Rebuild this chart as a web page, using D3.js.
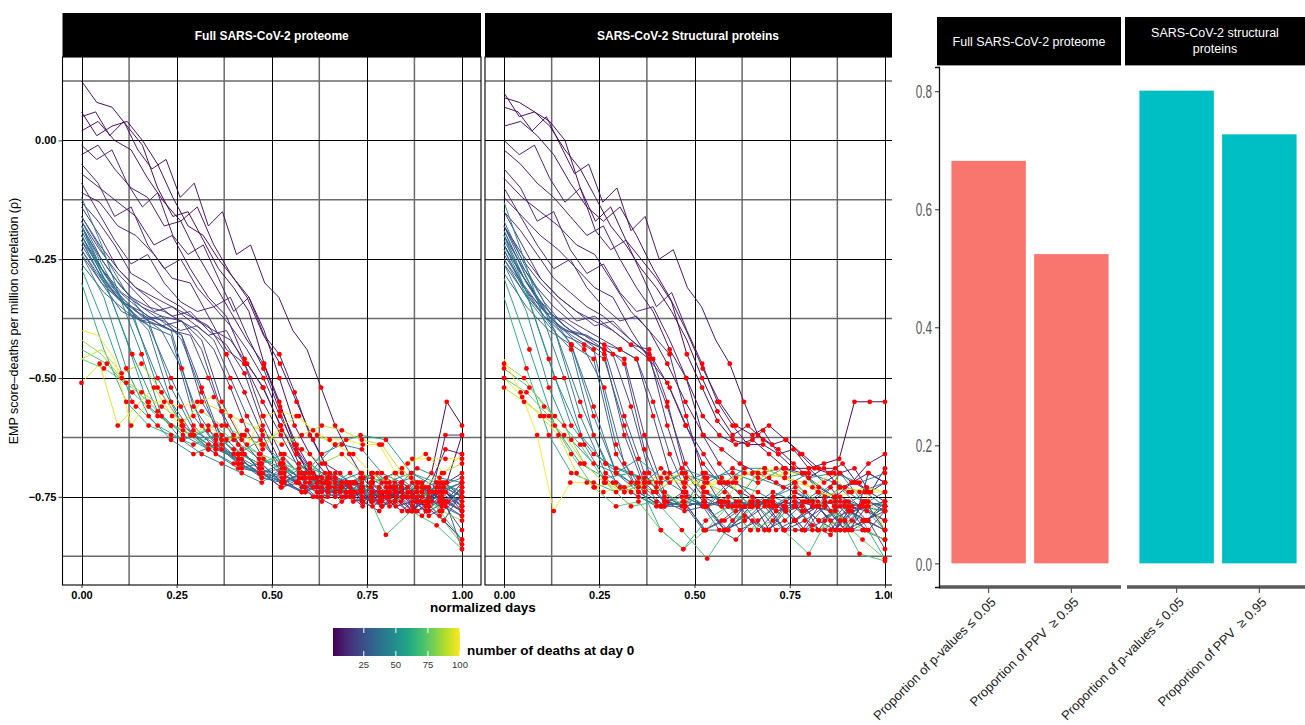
<!DOCTYPE html>
<html>
<head>
<meta charset="utf-8">
<script src="https://cdn.jsdelivr.net/npm/d3@7"></script>
<style>
  body { margin: 0; background: #fff; }
  svg { display: block; font-family: "Liberation Sans", Arial, Helvetica, sans-serif; }
</style>
</head>
<body>
<svg id="chart" width="1305" height="725"></svg>
<script>
// ---- correlation trajectories: one row per country, coloured by deaths at day 0 ----
const deaths = [1, 2, 3, 4, 5, 6, 7, 8, 9, 10, 11, 12, 13, 15, 16, 18, 19, 20, 22, 24, 26, 27, 29, 30, 32, 34, 35, 38, 40, 41, 44, 46, 48, 52, 57, 63, 70, 76, 83, 90, 95, 100];

// full proteome: correlation at evenly spaced normalized days
const proteomeSeries = [
  [0.125,0.08,0.07,0.03,-0.01,-0.10,-0.16,-0.15,-0.21,-0.27,-0.31,-0.36,-0.47,-0.55,-0.64,-0.71,-0.72,-0.74,-0.72,-0.73,-0.75,-0.72,-0.74,-0.70,-0.55,-0.60],
  [0.06,0.01,0.03,0.04,0.00,-0.05,-0.12,-0.18,-0.20,-0.25,-0.29,-0.33,-0.40,-0.50,-0.60,-0.66,-0.70,-0.73,-0.72,-0.75,-0.74,-0.76,-0.73,-0.74,-0.72,-0.62],
  [0.02,0.04,0.00,-0.02,-0.08,-0.13,-0.17,-0.14,-0.22,-0.28,-0.33,-0.41,-0.47,-0.55,-0.63,-0.70,-0.72,-0.71,-0.75,-0.73,-0.77,-0.74,-0.76,-0.72],
  [0.05,0.06,0.01,0.04,-0.02,-0.06,-0.04,-0.12,-0.09,-0.18,-0.15,-0.24,-0.22,-0.30,-0.33,-0.40,-0.44,-0.52,-0.60,-0.66,-0.71,-0.70,-0.73,-0.75,-0.72,-0.74,-0.76,-0.73],
  [-0.03,-0.01,-0.06,-0.10,-0.12,-0.18,-0.17,-0.24,-0.30,-0.36,-0.42,-0.47,-0.56,-0.64,-0.70,-0.73,-0.72,-0.76,-0.74,-0.75,-0.78,-0.73,-0.65,-0.66],
  [-0.07,-0.10,-0.13,-0.16,-0.22,-0.20,-0.27,-0.33,-0.37,-0.46,-0.52,-0.60,-0.68,-0.71,-0.74,-0.72,-0.76,-0.75,-0.73,-0.77,-0.80,-0.84],
  [-0.01,-0.04,-0.02,-0.09,-0.14,-0.11,-0.20,-0.24,-0.22,-0.29,-0.36,-0.33,-0.41,-0.45,-0.53,-0.62,-0.68,-0.70,-0.74,-0.72,-0.75,-0.73,-0.78,-0.76,-0.72,-0.70],
  [-0.11,-0.13,-0.18,-0.20,-0.24,-0.29,-0.30,-0.37,-0.44,-0.47,-0.55,-0.62,-0.69,-0.72,-0.71,-0.74,-0.76,-0.73,-0.75,-0.78,-0.74,-0.76],
  [-0.05,-0.09,-0.16,-0.14,-0.22,-0.27,-0.25,-0.31,-0.35,-0.33,-0.41,-0.48,-0.57,-0.66,-0.71,-0.70,-0.74,-0.77,-0.73,-0.75,-0.72,-0.76,-0.74,-0.78],
  [-0.13,-0.17,-0.22,-0.28,-0.30,-0.33,-0.35,-0.38,-0.40,-0.42,-0.47,-0.52,-0.60,-0.66,-0.70,-0.73,-0.72,-0.75,-0.74,-0.77,-0.76,-0.77,-0.62,-0.62],
  [-0.09,-0.15,-0.21,-0.26,-0.24,-0.30,-0.34,-0.36,-0.35,-0.39,-0.44,-0.50,-0.58,-0.65,-0.70,-0.72,-0.74,-0.73,-0.76,-0.74,-0.78,-0.75,-0.74,-0.77],
  [-0.16,-0.22,-0.27,-0.31,-0.33,-0.35,-0.37,-0.39,-0.45,-0.53,-0.62,-0.70,-0.72,-0.74,-0.72,-0.76,-0.75,-0.74,-0.78,-0.76,-0.73,-0.75],
  [-0.14,-0.20,-0.27,-0.31,-0.34,-0.37,-0.36,-0.40,-0.43,-0.49,-0.60,-0.68,-0.71,-0.73,-0.75,-0.72,-0.74,-0.77,-0.75,-0.73,-0.76,-0.78],
  [-0.18,-0.24,-0.29,-0.33,-0.35,-0.36,-0.38,-0.40,-0.44,-0.52,-0.61,-0.67,-0.70,-0.72,-0.75,-0.73,-0.72,-0.76,-0.78,-0.74,-0.75,-0.79,-0.77,-0.73],
  [-0.17,-0.23,-0.28,-0.32,-0.36,-0.35,-0.38,-0.41,-0.40,-0.47,-0.58,-0.66,-0.70,-0.72,-0.71,-0.75,-0.73,-0.76,-0.74,-0.77,-0.72,-0.75],
  [-0.20,-0.27,-0.32,-0.35,-0.37,-0.38,-0.42,-0.55,-0.63,-0.68,-0.72,-0.70,-0.73,-0.75,-0.72,-0.76,-0.74,-0.79,-0.75,-0.78],
  [-0.21,-0.29,-0.34,-0.36,-0.39,-0.38,-0.44,-0.57,-0.65,-0.70,-0.71,-0.74,-0.72,-0.76,-0.73,-0.75,-0.78,-0.74,-0.77,-0.75],
  [-0.22,-0.28,-0.33,-0.36,-0.38,-0.40,-0.41,-0.50,-0.60,-0.66,-0.70,-0.73,-0.72,-0.75,-0.77,-0.74,-0.72,-0.75,-0.78,-0.76,-0.80,-0.74],
  [-0.24,-0.30,-0.34,-0.38,-0.39,-0.41,-0.52,-0.63,-0.67,-0.71,-0.72,-0.74,-0.71,-0.75,-0.73,-0.77,-0.75,-0.72,-0.76,-0.82],
  [-0.21,-0.26,-0.31,-0.34,-0.37,-0.38,-0.40,-0.39,-0.42,-0.50,-0.58,-0.64,-0.68,-0.72,-0.73,-0.71,-0.75,-0.74,-0.76,-0.73,-0.75,-0.78,-0.76,-0.86],
  [-0.23,-0.30,-0.36,-0.38,-0.37,-0.42,-0.53,-0.64,-0.69,-0.70,-0.73,-0.71,-0.75,-0.73,-0.76,-0.74,-0.72,-0.75,-0.77,-0.79],
  [-0.17,-0.25,-0.31,-0.35,-0.38,-0.41,-0.55,-0.62,-0.66,-0.69,-0.72,-0.70,-0.74,-0.72,-0.75,-0.77,-0.73,-0.76,-0.74,-0.72],
  [-0.20,-0.29,-0.34,-0.38,-0.40,-0.56,-0.63,-0.67,-0.70,-0.72,-0.71,-0.74,-0.72,-0.75,-0.73,-0.76,-0.75,-0.78],
  [-0.26,-0.32,-0.36,-0.39,-0.41,-0.58,-0.64,-0.68,-0.70,-0.72,-0.74,-0.72,-0.75,-0.77,-0.74,-0.78,-0.76,-0.79],
  [-0.19,-0.27,-0.33,-0.37,-0.40,-0.48,-0.60,-0.65,-0.68,-0.71,-0.70,-0.73,-0.76,-0.72,-0.74,-0.77,-0.75,-0.73,-0.78,-0.75],
  [-0.18,-0.28,-0.35,-0.39,-0.50,-0.60,-0.65,-0.67,-0.70,-0.69,-0.73,-0.71,-0.74,-0.72,-0.70,-0.74,-0.73,-0.76],
  [-0.23,-0.30,-0.35,-0.40,-0.55,-0.62,-0.66,-0.69,-0.68,-0.72,-0.74,-0.71,-0.73,-0.76,-0.72,-0.75,-0.74,-0.77],
  [-0.16,-0.24,-0.32,-0.38,-0.52,-0.61,-0.64,-0.67,-0.70,-0.68,-0.72,-0.75,-0.73,-0.70,-0.74,-0.72,-0.76,-0.74],
  [-0.18,-0.28,-0.37,-0.50,-0.60,-0.64,-0.66,-0.69,-0.71,-0.68,-0.72,-0.70,-0.73,-0.71,-0.74,-0.72],
  [-0.20,-0.30,-0.36,-0.52,-0.60,-0.65,-0.68,-0.70,-0.72,-0.69,-0.71,-0.74,-0.72,-0.70,-0.73,-0.71],
  [-0.12,-0.22,-0.34,-0.45,-0.58,-0.63,-0.66,-0.68,-0.70,-0.72,-0.69,-0.71,-0.66,-0.64,-0.65,-0.70,-0.72,-0.75,-0.72,-0.74],
  [-0.21,-0.31,-0.45,-0.57,-0.62,-0.65,-0.63,-0.67,-0.69,-0.72,-0.70,-0.73,-0.71,-0.74,-0.72,-0.75],
  [-0.24,-0.33,-0.48,-0.58,-0.63,-0.66,-0.64,-0.68,-0.70,-0.72,-0.70,-0.74,-0.72,-0.71,-0.73,-0.69,-0.71,-0.72],
  [-0.18,-0.29,-0.42,-0.56,-0.60,-0.62,-0.65,-0.66,-0.63,-0.68,-0.70,-0.72,-0.74,-0.70,-0.73,-0.76,-0.72,-0.77],
  [-0.27,-0.40,-0.55,-0.60,-0.63,-0.61,-0.65,-0.68,-0.66,-0.70,-0.64,-0.62,-0.63,-0.70,-0.72,-0.74],
  [-0.30,-0.44,-0.55,-0.60,-0.62,-0.64,-0.62,-0.66,-0.68,-0.67,-0.71,-0.73,-0.70,-0.74,-0.76,-0.72,-0.78,-0.84],
  [-0.44,-0.47,-0.53,-0.58,-0.61,-0.65,-0.62,-0.66,-0.70,-0.68,-0.73,-0.71,-0.83,-0.78,-0.81,-0.86],
  [-0.46,-0.48,-0.51,-0.55,-0.60,-0.62,-0.60,-0.64,-0.66,-0.68,-0.70,-0.72,-0.74,-0.72,-0.76,-0.73,-0.79,-0.85],
  [-0.42,-0.45,-0.50,-0.53,-0.56,-0.59,-0.57,-0.60,-0.62,-0.64,-0.61,-0.65,-0.68,-0.66,-0.70,-0.72,-0.69,-0.74,-0.78,-0.80],
  [-0.46,-0.44,-0.49,-0.47,-0.53,-0.60,-0.55,-0.57,-0.59,-0.61,-0.64,-0.62,-0.60,-0.61,-0.63,-0.64,-0.70,-0.73,-0.70,-0.68],
  [-0.51,-0.47,-0.60,-0.56,-0.52,-0.58,-0.62,-0.60,-0.63,-0.62,-0.65,-0.60,-0.58,-0.62,-0.64,-0.66,-0.70,-0.72,-0.68,-0.66,-0.70,-0.66],
  [-0.40,-0.41,-0.46,-0.60,-0.55,-0.55,-0.56,-0.55,-0.54,-0.58,-0.64,-0.58,-0.57,-0.58,-0.61,-0.63,-0.63,-0.64,-0.64,-0.70,-0.67,-0.67,-0.67,-0.67]
];

// structural proteins only
const structuralSeries = [
  [0.09,0.08,0.06,0.04,0.00,-0.10,-0.17,-0.14,-0.21,-0.25,-0.29,-0.34,-0.45,-0.52,-0.59,-0.63,-0.64,-0.64,-0.66,-0.69,-0.69,-0.68,-0.67,-0.55,-0.55,-0.55],
  [0.10,0.05,0.06,0.03,-0.02,-0.06,-0.12,-0.18,-0.22,-0.27,-0.31,-0.36,-0.42,-0.50,-0.57,-0.62,-0.60,-0.63,-0.65,-0.68,-0.71,-0.69,-0.73,-0.72,-0.74,-0.76],
  [0.03,0.04,0.01,-0.03,-0.09,-0.14,-0.17,-0.14,-0.20,-0.27,-0.33,-0.40,-0.48,-0.55,-0.60,-0.62,-0.60,-0.63,-0.66,-0.69,-0.69,-0.72,-0.70,-0.72],
  [0.07,0.06,0.02,0.05,-0.01,-0.07,-0.05,-0.13,-0.10,-0.19,-0.16,-0.25,-0.23,-0.31,-0.35,-0.42,-0.47,-0.55,-0.62,-0.64,-0.63,-0.66,-0.69,-0.70,-0.68,-0.72,-0.74,-0.69],
  [-0.02,-0.05,-0.09,-0.12,-0.16,-0.20,-0.18,-0.25,-0.31,-0.36,-0.44,-0.50,-0.58,-0.62,-0.64,-0.63,-0.66,-0.69,-0.70,-0.73,-0.75,-0.72,-0.68,-0.66],
  [-0.08,-0.12,-0.15,-0.18,-0.22,-0.24,-0.30,-0.36,-0.40,-0.47,-0.55,-0.62,-0.65,-0.68,-0.70,-0.72,-0.74,-0.76,-0.73,-0.78,-0.80,-0.82],
  [0.00,-0.03,-0.01,-0.08,-0.13,-0.10,-0.19,-0.23,-0.21,-0.28,-0.35,-0.32,-0.40,-0.47,-0.55,-0.60,-0.64,-0.61,-0.66,-0.65,-0.69,-0.72,-0.70,-0.69,-0.74,-0.72],
  [-0.12,-0.16,-0.20,-0.23,-0.27,-0.31,-0.33,-0.40,-0.46,-0.51,-0.60,-0.66,-0.72,-0.74,-0.76,-0.77,-0.75,-0.77,-0.78,-0.76,-0.80,-0.77],
  [-0.06,-0.10,-0.17,-0.15,-0.23,-0.28,-0.26,-0.32,-0.36,-0.35,-0.42,-0.50,-0.62,-0.68,-0.72,-0.75,-0.77,-0.76,-0.78,-0.77,-0.82,-0.78,-0.77,-0.82],
  [-0.15,-0.19,-0.24,-0.29,-0.32,-0.35,-0.37,-0.40,-0.43,-0.46,-0.52,-0.60,-0.68,-0.72,-0.76,-0.77,-0.76,-0.78,-0.77,-0.80,-0.78,-0.82,-0.70,-0.72],
  [-0.10,-0.16,-0.22,-0.27,-0.25,-0.31,-0.35,-0.38,-0.37,-0.41,-0.45,-0.58,-0.70,-0.76,-0.77,-0.76,-0.82,-0.78,-0.77,-0.80,-0.82,-0.77,-0.76,-0.78],
  [-0.18,-0.24,-0.29,-0.33,-0.36,-0.38,-0.40,-0.43,-0.46,-0.56,-0.68,-0.74,-0.76,-0.77,-0.76,-0.78,-0.77,-0.76,-0.80,-0.78,-0.76,-0.77],
  [-0.15,-0.22,-0.29,-0.33,-0.36,-0.39,-0.38,-0.42,-0.45,-0.60,-0.72,-0.76,-0.77,-0.82,-0.80,-0.77,-0.76,-0.82,-0.82,-0.77,-0.78,-0.80],
  [-0.20,-0.26,-0.31,-0.35,-0.38,-0.40,-0.42,-0.44,-0.46,-0.58,-0.70,-0.75,-0.77,-0.76,-0.78,-0.77,-0.76,-0.78,-0.82,-0.77,-0.76,-0.80,-0.82,-0.78],
  [-0.18,-0.25,-0.30,-0.34,-0.38,-0.37,-0.40,-0.43,-0.44,-0.55,-0.70,-0.75,-0.77,-0.76,-0.77,-0.82,-0.80,-0.77,-0.76,-0.82,-0.77,-0.76],
  [-0.22,-0.29,-0.35,-0.39,-0.42,-0.44,-0.46,-0.62,-0.74,-0.77,-0.76,-0.82,-0.80,-0.77,-0.82,-0.78,-0.76,-0.82,-0.80,-0.78],
  [-0.23,-0.31,-0.36,-0.38,-0.41,-0.43,-0.47,-0.65,-0.75,-0.77,-0.76,-0.82,-0.77,-0.76,-0.82,-0.80,-0.77,-0.82,-0.76,-0.77],
  [-0.24,-0.30,-0.35,-0.39,-0.41,-0.43,-0.45,-0.56,-0.70,-0.76,-0.77,-0.82,-0.80,-0.77,-0.82,-0.78,-0.77,-0.81,-0.83,-0.78,-0.80,-0.76],
  [-0.26,-0.32,-0.37,-0.41,-0.43,-0.46,-0.60,-0.72,-0.76,-0.78,-0.77,-0.82,-0.79,-0.82,-0.77,-0.82,-0.80,-0.76,-0.82,-0.84],
  [-0.22,-0.28,-0.33,-0.37,-0.40,-0.41,-0.43,-0.44,-0.46,-0.55,-0.66,-0.74,-0.77,-0.82,-0.84,-0.80,-0.82,-0.77,-0.76,-0.82,-0.77,-0.82,-0.80,-0.86],
  [-0.25,-0.31,-0.37,-0.40,-0.41,-0.44,-0.58,-0.70,-0.76,-0.77,-0.76,-0.82,-0.77,-0.82,-0.80,-0.76,-0.77,-0.82,-0.80,-0.82],
  [-0.18,-0.27,-0.34,-0.39,-0.42,-0.45,-0.62,-0.73,-0.77,-0.76,-0.82,-0.80,-0.77,-0.76,-0.82,-0.82,-0.77,-0.80,-0.76,-0.77],
  [-0.21,-0.30,-0.37,-0.41,-0.44,-0.64,-0.74,-0.77,-0.76,-0.77,-0.82,-0.77,-0.76,-0.80,-0.77,-0.82,-0.77,-0.80],
  [-0.28,-0.35,-0.40,-0.43,-0.46,-0.66,-0.74,-0.77,-0.76,-0.82,-0.82,-0.77,-0.76,-0.80,-0.77,-0.82,-0.82,-0.84],
  [-0.20,-0.29,-0.36,-0.40,-0.44,-0.52,-0.68,-0.74,-0.77,-0.77,-0.76,-0.82,-0.80,-0.76,-0.77,-0.82,-0.82,-0.77,-0.80,-0.77],
  [-0.19,-0.29,-0.37,-0.43,-0.56,-0.70,-0.74,-0.77,-0.76,-0.77,-0.75,-0.77,-0.74,-0.76,-0.77,-0.75,-0.77,-0.80],
  [-0.25,-0.33,-0.39,-0.44,-0.62,-0.72,-0.75,-0.77,-0.74,-0.77,-0.76,-0.77,-0.75,-0.77,-0.74,-0.76,-0.77,-0.78],
  [-0.17,-0.27,-0.36,-0.43,-0.58,-0.70,-0.73,-0.69,-0.72,-0.70,-0.72,-0.77,-0.75,-0.72,-0.77,-0.73,-0.76,-0.77],
  [-0.19,-0.30,-0.40,-0.55,-0.68,-0.72,-0.74,-0.70,-0.72,-0.69,-0.71,-0.73,-0.70,-0.72,-0.74,-0.72],
  [-0.22,-0.33,-0.40,-0.58,-0.70,-0.74,-0.77,-0.75,-0.77,-0.72,-0.74,-0.77,-0.76,-0.72,-0.77,-0.74],
  [-0.13,-0.25,-0.38,-0.50,-0.64,-0.71,-0.74,-0.72,-0.76,-0.77,-0.70,-0.72,-0.69,-0.69,-0.71,-0.70,-0.76,-0.77,-0.74,-0.77],
  [-0.23,-0.34,-0.50,-0.62,-0.68,-0.70,-0.72,-0.69,-0.71,-0.70,-0.72,-0.69,-0.71,-0.70,-0.72,-0.70],
  [-0.26,-0.36,-0.52,-0.63,-0.68,-0.70,-0.67,-0.71,-0.74,-0.77,-0.72,-0.77,-0.75,-0.73,-0.77,-0.70,-0.76,-0.77],
  [-0.20,-0.32,-0.46,-0.60,-0.66,-0.69,-0.71,-0.72,-0.70,-0.74,-0.77,-0.76,-0.77,-0.74,-0.76,-0.80,-0.77,-0.82],
  [-0.29,-0.44,-0.60,-0.68,-0.71,-0.70,-0.73,-0.77,-0.74,-0.77,-0.70,-0.69,-0.71,-0.75,-0.77,-0.78],
  [-0.33,-0.48,-0.62,-0.70,-0.72,-0.74,-0.72,-0.82,-0.86,-0.80,-0.77,-0.82,-0.77,-0.82,-0.82,-0.77,-0.80,-0.88],
  [-0.48,-0.52,-0.58,-0.64,-0.72,-0.77,-0.76,-0.82,-0.88,-0.80,-0.77,-0.82,-0.87,-0.77,-0.87,-0.885],
  [-0.50,-0.53,-0.58,-0.66,-0.73,-0.77,-0.76,-0.82,-0.86,-0.82,-0.77,-0.82,-0.80,-0.77,-0.82,-0.80,-0.84,-0.88],
  [-0.47,-0.50,-0.56,-0.60,-0.68,-0.72,-0.73,-0.71,-0.74,-0.77,-0.72,-0.74,-0.77,-0.70,-0.71,-0.74,-0.77,-0.80,-0.82,-0.84],
  [-0.52,-0.55,-0.58,-0.62,-0.68,-0.72,-0.74,-0.72,-0.70,-0.73,-0.71,-0.76,-0.70,-0.69,-0.71,-0.72,-0.75,-0.73,-0.74,-0.82],
  [-0.50,-0.54,-0.58,-0.62,-0.70,-0.73,-0.72,-0.74,-0.72,-0.71,-0.70,-0.73,-0.71,-0.74,-0.70,-0.69,-0.72,-0.73,-0.70,-0.74,-0.73,-0.74],
  [-0.46,-0.53,-0.62,-0.78,-0.72,-0.72,-0.74,-0.73,-0.72,-0.74,-0.72,-0.71,-0.73,-0.72,-0.71,-0.70,-0.71,-0.70,-0.70,-0.74,-0.75,-0.74,-0.74,-0.74]
];

// index of the first significant day for each country (points from here on are marked)
const proteomeSigFrom   = [12,13,12,17,11,9,13,9,11,10,11,8,9,9,9,7,7,7,6,9,6,6,5,5,5,4,4,4,3,3,3,2,2,3,2,2,1,1,2,2,0,3];
const structuralSigFrom = [12,13,12,16,10,9,13,8,11,9,10,7,8,7,8,5,5,6,4,7,5,5,4,3,4,3,3,3,3,3,3,2,2,2,1,1,0,0,0,0,0,1];

const lineFacets = ["Full SARS-CoV-2 proteome", "SARS-CoV-2 Structural proteins"];
const xTicks = [0, 0.25, 0.5, 0.75, 1];
const xMinor = [0.125, 0.375, 0.625, 0.875];
const yTicks = [0, -0.25, -0.5, -0.75];
const yMinor = [0.125, -0.125, -0.375, -0.625, -0.875];
const legendTicks = [25, 50, 75, 100];

// ---- summary proportions ----
const barFacets = ["Full SARS-CoV-2 proteome", "SARS-CoV-2 structural proteins"];
const barMetrics = ["Proportion of p-values \u2264 0.05", "Proportion of PPV  \u2265 0.95"];
const proteomeProportions = [0.682, 0.524];
const structuralProportions = [0.801, 0.727];
const barTicks = [0, 0.2, 0.4, 0.6, 0.8];
const barColors = ["#F8766D", "#00BFC4"];

const svg = d3.select("#chart");

// =================== faceted trajectories ===================
const panelTop = 57, panelBottom = 585;
const facetRanges = [[62.5, 481], [485, 904]];

const allValues = proteomeSeries.concat(structuralSeries).flat();
const [vMin, vMax] = d3.extent(allValues);
const vPad = (vMax - vMin) * 0.05;
const y = d3.scaleLinear().domain([vMin - vPad, vMax + vPad]).range([panelBottom, panelTop]);
const color = d3.scaleSequential(d3.interpolateViridis).domain(d3.extent(deaths));

const facetData = [
  { series: proteomeSeries, sig: proteomeSigFrom },
  { series: structuralSeries, sig: structuralSigFrom }
];

facetData.forEach((fd, f) => {
  const [px0, px1] = facetRanges[f];
  const x = d3.scaleLinear().domain([-0.05, 1.05]).range([px0, px1]);
  const g = svg.append("g");

  svg.append("clipPath").attr("id", "clip" + f)
    .append("rect").attr("x", px0).attr("y", panelTop).attr("width", px1 - px0).attr("height", panelBottom - panelTop);

  const grid = g.append("g");
  grid.selectAll(".hmin").data(yMinor).join("line")
    .attr("x1", px0).attr("x2", px1)
    .attr("y1", d => y(d)).attr("y2", d => y(d))
    .attr("stroke", "#6a6a6a").attr("stroke-width", 1.5);
  grid.selectAll(".vmin").data(xMinor).join("line")
    .attr("y1", panelTop).attr("y2", panelBottom)
    .attr("x1", d => x(d)).attr("x2", d => x(d))
    .attr("stroke", "#6a6a6a").attr("stroke-width", 1.5);
  grid.selectAll(".hmaj").data(yTicks).join("line")
    .attr("x1", px0).attr("x2", px1)
    .attr("y1", d => Math.round(y(d)) + 0.5).attr("y2", d => Math.round(y(d)) + 0.5)
    .attr("stroke", "#000").attr("stroke-width", 1);
  grid.selectAll(".vmaj").data(xTicks).join("line")
    .attr("y1", panelTop).attr("y2", panelBottom)
    .attr("x1", d => Math.round(x(d)) + 0.5).attr("x2", d => Math.round(x(d)) + 0.5)
    .attr("stroke", "#000").attr("stroke-width", 1);

  const line = d3.line()
    .x((v, i, arr) => x(i / (arr.length - 1)))
    .y(v => y(v));

  const plot = g.append("g").attr("clip-path", `url(#clip${f})`);
  plot.selectAll("path.traj").data(fd.series).join("path")
    .attr("class", "traj")
    .attr("d", d => line(d))
    .attr("fill", "none")
    .attr("stroke", (d, k) => color(deaths[k]))
    .attr("stroke-width", 0.95);

  const dots = [];
  fd.series.forEach((s, k) => {
    s.forEach((v, i) => {
      if (i >= fd.sig[k]) dots.push({ x: i / (s.length - 1), v });
    });
  });
  plot.selectAll("circle").data(dots).join("circle")
    .attr("cx", d => x(d.x)).attr("cy", d => y(d.v))
    .attr("r", 2.4).attr("fill", "#ff0000");

  // panel border
  g.append("rect")
    .attr("x", px0).attr("y", panelTop).attr("width", px1 - px0).attr("height", panelBottom - panelTop)
    .attr("fill", "none").attr("stroke", "#000").attr("stroke-width", 1.1);

  // strip
  g.append("rect").attr("x", px0).attr("y", 13).attr("width", px1 - px0).attr("height", panelTop - 13).attr("fill", "#000");
  g.append("text")
    .attr("x", (px0 + Math.min(px1, 891)) / 2).attr("y", 40)
    .attr("text-anchor", "middle").attr("fill", "#fff")
    .attr("font-size", 12).attr("font-weight", "bold")
    .text(lineFacets[f]);

  // x axis
  const xAxis = g.append("g").attr("transform", `translate(0,${panelBottom})`)
    .call(d3.axisBottom(x).tickValues(xTicks).tickSize(3).tickPadding(3).tickFormat(d3.format(".2f")));
  xAxis.select(".domain").remove();
  xAxis.selectAll("line").attr("stroke", "#333");
  xAxis.selectAll("text").attr("font-size", 11).attr("font-weight", "bold").attr("fill", "#000")
    .attr("font-family", "'Liberation Sans', Arial, sans-serif");

  if (f === 0) {
    const yAxis = g.append("g").attr("transform", `translate(${px0},0)`)
      .call(d3.axisLeft(y).tickValues(yTicks).tickSize(4).tickPadding(2).tickFormat(d3.format(".2f")));
    yAxis.select(".domain").remove();
    yAxis.selectAll("line").attr("stroke", "#333");
    yAxis.selectAll("text").attr("font-size", 11).attr("font-weight", "bold").attr("fill", "#000")
      .attr("font-family", "'Liberation Sans', Arial, sans-serif");
  }
});

svg.append("text")
  .attr("transform", "translate(18,321) rotate(-90)")
  .attr("text-anchor", "middle").attr("font-size", 12.5).attr("fill", "#000")
  .text("EMP score\u2013deaths per million correlation (\u03c1)");

svg.append("text")
  .attr("x", 483).attr("y", 612).attr("text-anchor", "middle")
  .attr("font-size", 13.5).attr("font-weight", "bold")
  .text("normalized days");

// colour bar legend
const legendX = d3.scaleLinear().domain(d3.extent(deaths)).range([333, 460]);
const defs = svg.append("defs");
const grad = defs.append("linearGradient").attr("id", "viridisGrad");
d3.range(0, 1.0001, 0.1).forEach(t => {
  grad.append("stop").attr("offset", t).attr("stop-color", d3.interpolateViridis(t));
});
const legend = svg.append("g");
legend.append("rect").attr("x", 333).attr("y", 628).attr("width", 127).attr("height", 28).attr("fill", "url(#viridisGrad)");
legend.selectAll(".tt").data(legendTicks).join("line")
  .attr("x1", d => legendX(d)).attr("x2", d => legendX(d)).attr("y1", 628).attr("y2", 633)
  .attr("stroke", "#fff").attr("stroke-width", 1);
legend.selectAll(".tb").data(legendTicks).join("line")
  .attr("x1", d => legendX(d)).attr("x2", d => legendX(d)).attr("y1", 651).attr("y2", 656)
  .attr("stroke", "#fff").attr("stroke-width", 1);
legend.selectAll("text.lab").data(legendTicks).join("text")
  .attr("x", d => legendX(d)).attr("y", 668).attr("text-anchor", "middle")
  .attr("font-size", 9.5).attr("fill", "#333").text(d => d);
legend.append("text").attr("x", 467).attr("y", 655)
  .attr("font-size", 13.5).attr("font-weight", "bold").text("number of deaths at day 0");

// =================== proportion bars ===================
svg.append("rect").attr("x", 892).attr("y", 0).attr("width", 1305 - 892).attr("height", 725).attr("fill", "#fff");

const barTop = 67, barBottom = 587;
const barMax = d3.max(proteomeProportions.concat(structuralProportions));
const yb = d3.scaleLinear().domain([-0.05 * barMax, barMax * 1.05]).range([barBottom, barTop]);
const barRanges = [[939, 1121], [1127, 1309]];
const barValues = [proteomeProportions, structuralProportions];

barValues.forEach((vals, f) => {
  const [bx0, bx1] = barRanges[f];
  const xb = d3.scaleBand().domain(barMetrics).range([bx0, bx1]).paddingInner(0.1).paddingOuter(0.15);
  const g = svg.append("g");

  g.selectAll("rect.bar").data(vals).join("rect")
    .attr("class", "bar")
    .attr("x", (d, i) => xb(barMetrics[i]))
    .attr("width", xb.bandwidth())
    .attr("y", d => yb(d))
    .attr("height", d => yb(0) - yb(d))
    .attr("fill", barColors[f]);

  // strip
  g.append("rect").attr("x", bx0 - 2).attr("y", 17).attr("width", Math.min(bx1, 1305) - bx0 + 2).attr("height", 48).attr("fill", "#000");
  g.append("line").attr("x1", bx0 - 2).attr("x2", Math.min(bx1, 1305)).attr("y1", 65.5).attr("y2", 65.5)
    .attr("stroke", "#9a9a9a").attr("stroke-width", 1);
  const words = f === 0 ? [barFacets[0]] : ["SARS-CoV-2 structural", "proteins"];
  const cx = (bx0 - 2 + Math.min(bx1, 1305)) / 2;
  g.selectAll("text.strip").data(words).join("text")
    .attr("class", "strip")
    .attr("x", cx)
    .attr("y", (d, i) => words.length === 1 ? 46 : 37 + i * 16)
    .attr("text-anchor", "middle").attr("fill", "#fff").attr("font-size", 12.5)
    .text(d => d);

  // x axis
  g.append("line").attr("x1", bx0).attr("x2", Math.min(bx1, 1305)).attr("y1", barBottom).attr("y2", barBottom)
    .attr("stroke", "#5a5a5a").attr("stroke-width", 3.5);
  const xAx = g.append("g").attr("transform", `translate(0,${barBottom})`)
    .call(d3.axisBottom(xb).tickSize(6).tickPadding(4));
  xAx.select(".domain").remove();
  xAx.selectAll("line").attr("stroke", "#555").attr("stroke-width", 1.2);
  xAx.selectAll("text")
    .attr("text-anchor", "end")
    .attr("font-size", 13).attr("fill", "#222")
    .attr("font-family", "'Liberation Sans', Arial, sans-serif")
    .style("white-space", "pre")
    .attr("dy", 0).attr("y", 0)
    .attr("transform", "translate(8,16) rotate(-45)");

  if (f === 0) {
    const yAx = g.append("g").attr("transform", `translate(${bx0},0)`)
      .call(d3.axisLeft(yb).tickValues(barTicks).tickSize(4).tickPadding(3).tickFormat(d3.format(".1f")));
    yAx.select(".domain").attr("stroke", "#111").attr("stroke-width", 1.3);
    yAx.selectAll("line").attr("stroke", "#333");
    yAx.selectAll("text").each(function () {
      d3.select(this).attr("font-size", 19).attr("fill", "#555")
        .attr("font-family", "'Liberation Sans', Arial, sans-serif")
        .attr("x", 0).attr("dy", "0.35em")
        .attr("transform", "translate(-7,0) scale(0.62,1)");
    });
  }
});
</script>
</body>
</html>
